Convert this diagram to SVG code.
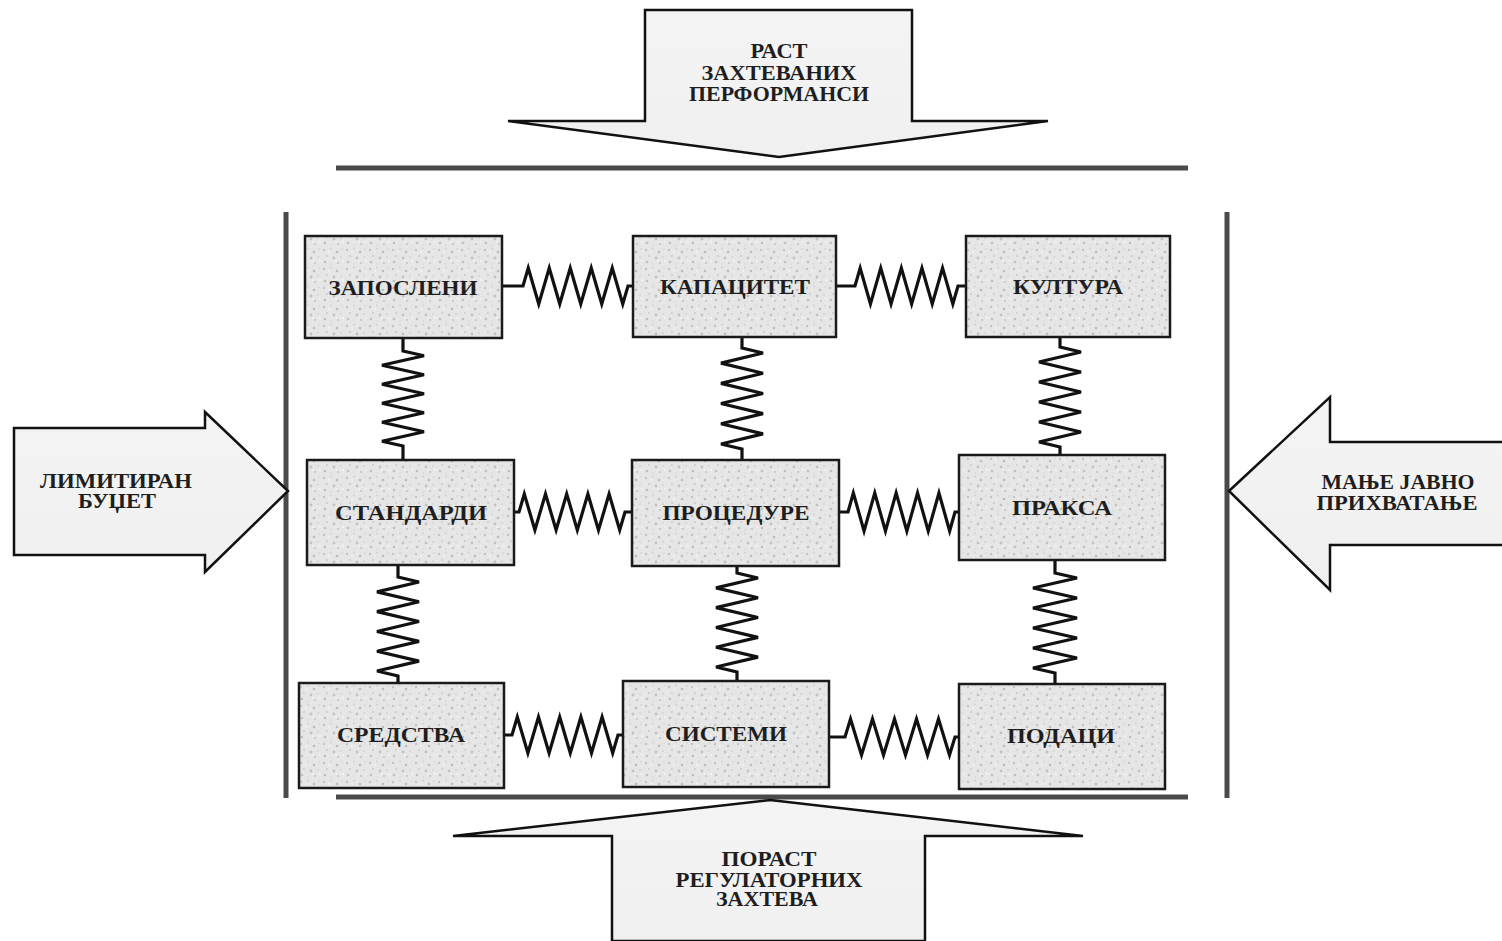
<svg xmlns="http://www.w3.org/2000/svg" width="1502" height="941" viewBox="0 0 1502 941">
<defs>
<style>
.bar{stroke:#4a4a4a;stroke-width:5;fill:none}
.arrow{fill:url(#ag);stroke:#111;stroke-width:2.5;stroke-linejoin:miter}
.box{fill:url(#stip);stroke:#1a1a1a;stroke-width:2.5}
.spring{fill:none;stroke:#111;stroke-width:3.2;stroke-linejoin:miter}
.t{font-family:"Liberation Serif","Times New Roman",serif;font-weight:bold;fill:#1e1e1e;text-anchor:middle}
.bt{font-size:22px}
.at{font-size:20px}
</style>
<linearGradient id="ag" x1="0" y1="0" x2="0" y2="1">
<stop offset="0" stop-color="#f4f4f4"/>
<stop offset="1" stop-color="#f0f0f0"/>
</linearGradient>
<pattern id="stip" width="23" height="19" patternUnits="userSpaceOnUse">
<rect width="23" height="19" fill="#e6e6e6"/>
<circle cx="2" cy="3" r="1.2" fill="#c4c4c4"/>
<circle cx="9" cy="1.5" r="0.9" fill="#d0d0d0"/>
<circle cx="15" cy="5" r="1.3" fill="#bdbdbd"/>
<circle cx="20" cy="2" r="0.8" fill="#cfcfcf"/>
<circle cx="5" cy="9" r="1" fill="#cacaca"/>
<circle cx="12" cy="11" r="1.4" fill="#c2c2c2"/>
<circle cx="19" cy="10" r="0.9" fill="#d2d2d2"/>
<circle cx="3" cy="15" r="1.3" fill="#c0c0c0"/>
<circle cx="9" cy="17" r="0.8" fill="#d4d4d4"/>
<circle cx="16" cy="16" r="1.1" fill="#c6c6c6"/>
<circle cx="21" cy="14" r="1" fill="#f5f5f5"/>
<circle cx="7" cy="5" r="1" fill="#f3f3f3"/>
<circle cx="14" cy="14" r="0.9" fill="#f2f2f2"/>
</pattern>
</defs>
<rect width="1502" height="941" fill="#ffffff"/>

<g id="bars">
<line class="bar" x1="336" y1="168" x2="1188" y2="168"/>
<line class="bar" x1="336" y1="797" x2="1188" y2="797"/>
<line class="bar" x1="286" y1="212" x2="286" y2="798"/>
<line class="bar" x1="1227" y1="212" x2="1227" y2="798"/>
</g>

<g id="arrow-top">
<polygon class="arrow" points="645,10 912,10 912,121 1048,121 779,157 508,121 645,121"/>
<text class="t at" x="779" y="58" textLength="57" lengthAdjust="spacingAndGlyphs">РАСТ</text>
<text class="t at" x="779" y="80" textLength="155" lengthAdjust="spacingAndGlyphs">ЗАХТЕВАНИХ</text>
<text class="t at" x="779" y="101" textLength="180" lengthAdjust="spacingAndGlyphs">ПЕРФОРМАНСИ</text>
</g>

<g id="arrow-bottom">
<polygon class="arrow" points="770,800 1083,836 925,836 925,941 612,941 612,836 453,836"/>
<text class="t at" x="769" y="866" textLength="95" lengthAdjust="spacingAndGlyphs">ПОРАСТ</text>
<text class="t at" x="769" y="887" textLength="187" lengthAdjust="spacingAndGlyphs">РЕГУЛАТОРНИХ</text>
<text class="t at" x="767" y="906" textLength="102" lengthAdjust="spacingAndGlyphs">ЗАХТЕВА</text>
</g>

<g id="arrow-left">
<polygon class="arrow" points="14,428 205,428 205,412 288,491 205,572 205,555 14,555"/>
<text class="t at" x="116" y="488" textLength="152" lengthAdjust="spacingAndGlyphs">ЛИМИТИРАН</text>
<text class="t at" x="117" y="508" textLength="78" lengthAdjust="spacingAndGlyphs">БУЏЕТ</text>
</g>

<g id="arrow-right">
<polygon class="arrow" points="1229,491 1330,397 1330,442 1504,442 1504,545 1330,545 1330,590"/>
<text class="t at" x="1398" y="489" textLength="153" lengthAdjust="spacingAndGlyphs">МАЊЕ ЈАВНО</text>
<text class="t at" x="1397" y="510" textLength="161" lengthAdjust="spacingAndGlyphs">ПРИХВАТАЊЕ</text>
</g>

<g id="connectors">
<path class="spring" d="M502,286 H523 l5.25,-18 l10.5,36 l10.5,-36 l10.5,36 l10.5,-36 l10.5,36 l10.5,-36 l10.5,36 l10.5,-36 l10.5,36 l5.25,-18 H633"/>
<path class="spring" d="M836,286 H855 l5.15,-18 l10.3,36 l10.3,-36 l10.3,36 l10.3,-36 l10.3,36 l10.3,-36 l10.3,36 l10.3,-36 l10.3,36 l5.15,-18 H966"/>
<path class="spring" d="M514,512 H519 l5.3,-18 l10.6,36 l10.6,-36 l10.6,36 l10.6,-36 l10.6,36 l10.6,-36 l10.6,36 l10.6,-36 l10.6,36 l5.3,-18 H632"/>
<path class="spring" d="M839,512 H848 l5.35,-19 l10.7,38 l10.7,-38 l10.7,38 l10.7,-38 l10.7,38 l10.7,-38 l10.7,38 l10.7,-38 l10.7,38 l5.35,-19 H959"/>
<path class="spring" d="M504,735 H512 l5.3,-18 l10.6,36 l10.6,-36 l10.6,36 l10.6,-36 l10.6,36 l10.6,-36 l10.6,36 l10.6,-36 l10.6,36 l5.3,-18 H623"/>
<path class="spring" d="M829,737 H845 l5.5,-18 l11,36 l11,-36 l11,36 l11,-36 l11,36 l11,-36 l11,36 l11,-36 l11,36 l5.5,-18 H959"/>
<path class="spring" d="M403,338 V351 l21,4.75 l-42,9.5 l42,9.5 l-42,9.5 l42,9.5 l-42,9.5 l42,9.5 l-42,9.5 l42,9.5 l-42,9.5 l21,4.75 V460"/>
<path class="spring" d="M742,337 V348 l21,5.05 l-42,10.1 l42,10.1 l-42,10.1 l42,10.1 l-42,10.1 l42,10.1 l-42,10.1 l42,10.1 l-42,10.1 l21,5.05 V460"/>
<path class="spring" d="M1060,337 V347 l21,5 l-42,10 l42,10 l-42,10 l42,10 l-42,10 l42,10 l-42,10 l42,10 l-42,10 l21,5 V455"/>
<path class="spring" d="M398,565 V577 l21,4.95 l-42,9.9 l42,9.9 l-42,9.9 l42,9.9 l-42,9.9 l42,9.9 l-42,9.9 l42,9.9 l-42,9.9 l21,4.95 V684"/>
<path class="spring" d="M737,565 V573 l21,4.95 l-42,9.9 l42,9.9 l-42,9.9 l42,9.9 l-42,9.9 l42,9.9 l-42,9.9 l42,9.9 l-42,9.9 l21,4.95 V682"/>
<path class="spring" d="M1055,560 V573 l22,5 l-44,10 l44,10 l-44,10 l44,10 l-44,10 l44,10 l-44,10 l44,10 l-44,10 l22,5 V683"/>
</g>

<g id="node-zaposleni">
<rect class="box" x="305" y="236" width="197" height="102"/>
<text class="t bt" x="403" y="295" textLength="149" lengthAdjust="spacingAndGlyphs">ЗАПОСЛЕНИ</text>
</g>
<g id="node-kapacitet">
<rect class="box" x="633" y="236" width="203" height="101"/>
<text class="t bt" x="735" y="294" textLength="150" lengthAdjust="spacingAndGlyphs">КАПАЦИТЕТ</text>
</g>
<g id="node-kultura">
<rect class="box" x="966" y="236" width="204" height="101"/>
<text class="t bt" x="1068" y="294" textLength="110" lengthAdjust="spacingAndGlyphs">КУЛТУРА</text>
</g>
<g id="node-standardi">
<rect class="box" x="307" y="460" width="207" height="105"/>
<text class="t bt" x="411" y="520" textLength="152" lengthAdjust="spacingAndGlyphs">СТАНДАРДИ</text>
</g>
<g id="node-procedure">
<rect class="box" x="632" y="460" width="207" height="106"/>
<text class="t bt" x="736" y="520" textLength="147" lengthAdjust="spacingAndGlyphs">ПРОЦЕДУРЕ</text>
</g>
<g id="node-praksa">
<rect class="box" x="959" y="455" width="206" height="105"/>
<text class="t bt" x="1062" y="515" textLength="100" lengthAdjust="spacingAndGlyphs">ПРАКСА</text>
</g>
<g id="node-sredstva">
<rect class="box" x="299" y="683" width="205" height="105"/>
<text class="t bt" x="401" y="742" textLength="128" lengthAdjust="spacingAndGlyphs">СРЕДСТВА</text>
</g>
<g id="node-sistemi">
<rect class="box" x="623" y="681" width="206" height="106"/>
<text class="t bt" x="726" y="741" textLength="122" lengthAdjust="spacingAndGlyphs">СИСТЕМИ</text>
</g>
<g id="node-podaci">
<rect class="box" x="959" y="684" width="206" height="105"/>
<text class="t bt" x="1061" y="743" textLength="108" lengthAdjust="spacingAndGlyphs">ПОДАЦИ</text>
</g>
</svg>
